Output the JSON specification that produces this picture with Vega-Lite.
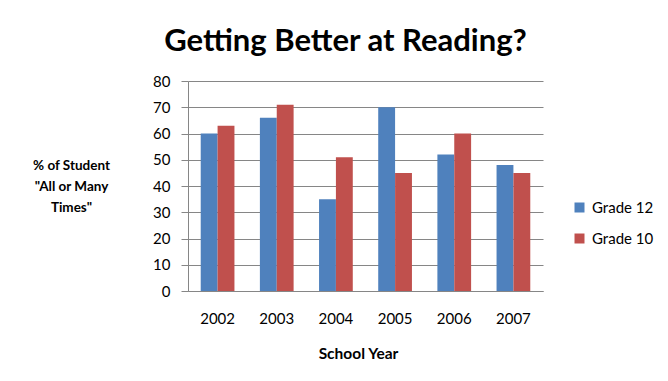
{
  "$schema": "https://vega.github.io/schema/vega-lite/v6.json",
  "width": 355,
  "height": 210,
  "autosize": {"type": "none"},
  "padding": {"left": 188, "top": 81, "right": 125, "bottom": 90},
  "background": "white",
  "title": {
    "text": "Getting Better at Reading?",
    "font": "Lato",
    "fontSize": 31,
    "fontWeight": "bold",
    "color": "#000000",
    "anchor": "middle",
    "baseline": "alphabetic",
    "dx": -20,
    "offset": -8
  },
  "data": {
    "values": [
      {"year": "2002", "grade": "Grade 12", "pct": 60},
      {"year": "2002", "grade": "Grade 10", "pct": 63},
      {"year": "2003", "grade": "Grade 12", "pct": 66},
      {"year": "2003", "grade": "Grade 10", "pct": 71},
      {"year": "2004", "grade": "Grade 12", "pct": 35},
      {"year": "2004", "grade": "Grade 10", "pct": 51},
      {"year": "2005", "grade": "Grade 12", "pct": 70},
      {"year": "2005", "grade": "Grade 10", "pct": 45},
      {"year": "2006", "grade": "Grade 12", "pct": 52},
      {"year": "2006", "grade": "Grade 10", "pct": 60},
      {"year": "2007", "grade": "Grade 12", "pct": 48},
      {"year": "2007", "grade": "Grade 10", "pct": 45}
    ]
  },
  "mark": {"type": "bar"},
  "encoding": {
    "x": {
      "field": "year",
      "type": "nominal",
      "scale": {"paddingInner": 0.43, "paddingOuter": 0.215},
      "axis": {
        "title": "School Year",
        "titleFont": "Lato",
        "titleFontSize": 15.5,
        "titleFontWeight": "bold",
        "titleColor": "#000000",
        "titleX": 170,
        "titleY": 62,
        "titleBaseline": "middle",
        "labelAngle": 0,
        "labelFont": "Lato",
        "labelFontSize": 15,
        "labelColor": "#000000",
        "labelPadding": 20,
        "ticks": false,
        "domainColor": "#868686",
        "grid": false
      }
    },
    "xOffset": {"field": "grade", "sort": ["Grade 12", "Grade 10"]},
    "y": {
      "field": "pct",
      "type": "quantitative",
      "scale": {"domain": [0, 80], "nice": false},
      "axis": {
        "values": [0, 10, 20, 30, 40, 50, 60, 70, 80],
        "title": ["% of Student", "\"All or Many", "Times\""],
        "titleFont": "Lato",
        "titleFontSize": 13.5,
        "titleFontWeight": "bold",
        "titleColor": "#000000",
        "titleAngle": 0,
        "titleAlign": "center",
        "titleBaseline": "middle",
        "titleLineHeight": 21,
        "titleX": -117,
        "titleY": 84,
        "labelFont": "Lato",
        "labelFontSize": 15,
        "labelColor": "#000000",
        "labelPadding": 11,
        "tickSize": 7,
        "tickColor": "#868686",
        "domainColor": "#868686",
        "gridColor": "#868686"
      }
    },
    "color": {
      "field": "grade",
      "type": "nominal",
      "scale": {"domain": ["Grade 12", "Grade 10"], "range": ["#4F81BD", "#C0504D"]},
      "legend": {
        "title": null,
        "orient": "none",
        "legendX": 384,
        "legendY": 119,
        "symbolType": "square",
        "symbolSize": 100,
        "symbolStrokeWidth": 0,
        "labelFont": "Lato",
        "labelFontSize": 15,
        "labelColor": "#000000",
        "labelOffset": 5,
        "rowPadding": 15
      }
    }
  },
  "config": {"view": {"stroke": null}}
}
